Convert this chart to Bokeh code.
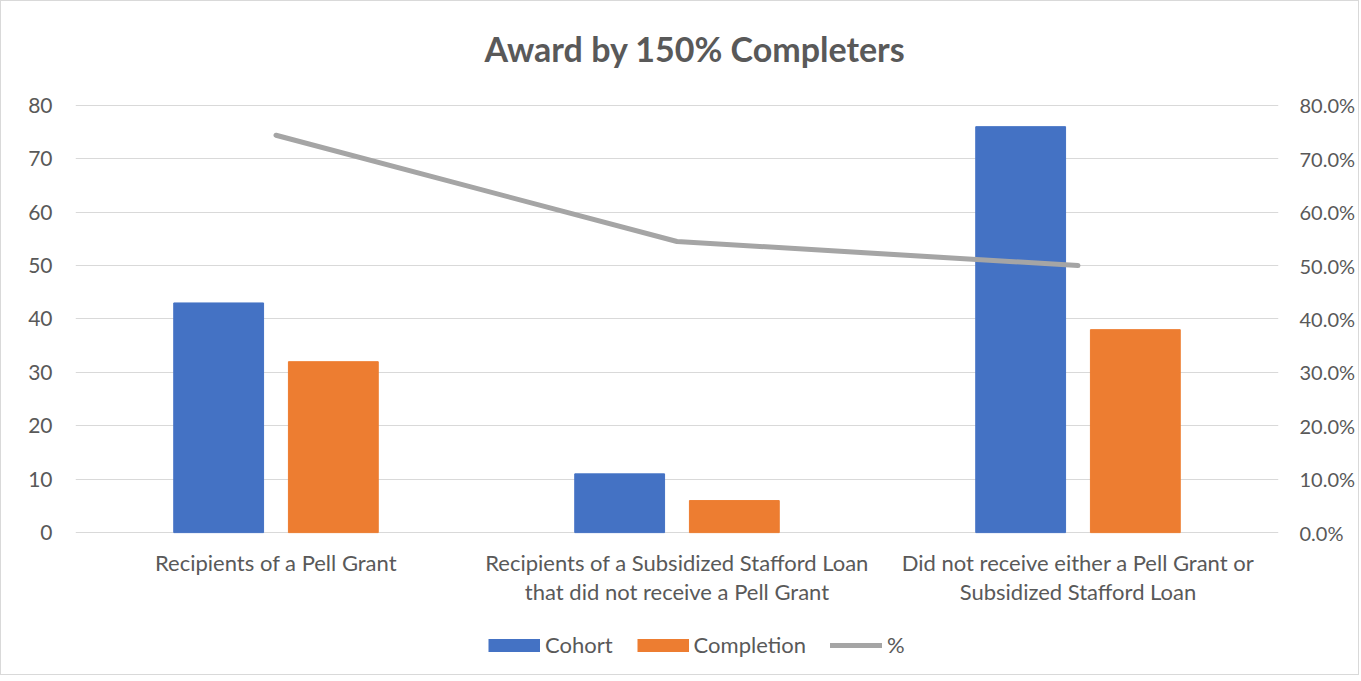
from bokeh.plotting import figure
from bokeh.models import (FactorRange, Range1d, LinearAxis, NumeralTickFormatter,
                          FixedTicker, Legend, LegendItem, ColumnDataSource)
from bokeh.core.properties import value
from bokeh.transform import dodge
from bokeh.embed import file_html
from bokeh.resources import INLINE

title = "Award by 150% Completers"
categories = ["Recipients of a Pell Grant",
              "Recipients of a Subsidized Stafford Loan\nthat did not receive a Pell Grant",
              "Did not receive either a Pell Grant or\nSubsidized Stafford Loan"]
cohort = [43, 11, 76]
completion = [32, 6, 38]
pct = [0.744, 0.545, 0.500]
left_ticks = [0, 10, 20, 30, 40, 50, 60, 70, 80]
right_ticks = [0.0, 0.1, 0.2, 0.3, 0.4, 0.5, 0.6, 0.7, 0.8]

FONT = "Lato"
TXT = "#595959"
BLUE = "#4472C4"
ORANGE = "#ED7D31"
GRAY = "#A5A5A5"

src = ColumnDataSource(dict(cat=categories, cohort=cohort, completion=completion, pct=pct,
                            base=[0] * len(categories)))

# frame extends above the top tick (title) and below zero (category labels, legend)
p = figure(x_range=FactorRange(*categories), y_range=Range1d(-26, 97),
           frame_width=1203, frame_height=657, output_backend="svg", toolbar_location=None,
           min_border_left=74, min_border_right=76, min_border_top=13, min_border_bottom=3)
p.extra_y_ranges = {"pct": Range1d(-0.26, 0.97)}

p.outline_line_color = None
p.styles = {"border": "1px solid #D9D9D9"}

r1 = p.vbar(x=dodge("cat", -0.143, range=p.x_range), top="cohort", width=0.224,
            source=src, color=BLUE)
r2 = p.vbar(x=dodge("cat", 0.143, range=p.x_range), top="completion", width=0.224,
            source=src, color=ORANGE)
r3 = p.line(x="cat", y="pct", source=src, y_range_name="pct",
            line_color=GRAY, line_width=5, line_cap="round", line_join="round")

# legend swatches: single-point lines draw nothing in the plot, only in the legend
sw1 = p.line(x=categories[:1], y=[0], line_color=BLUE, line_width=13, line_cap="butt")
sw2 = p.line(x=categories[:1], y=[0], line_color=ORANGE, line_width=13, line_cap="butt")

# chart title
p.text(x=categories[1:2], y=[80], text=[title], x_offset=18, y_offset=-57,
       text_align="center", text_baseline="middle", text_font=value(FONT),
       text_font_size="34px", text_font_style="bold", text_color=TXT)

# category labels
p.text(x="cat", y="base", text="cat", source=src, y_offset=16,
       text_align="center", text_baseline="top", text_font=value(FONT),
       text_font_size="22px", text_color=TXT, text_line_height=1.08)

# Left axis
ya = p.yaxis[0]
ya.ticker = FixedTicker(ticks=left_ticks)
ya.axis_line_color = None
ya.major_tick_line_color = None
ya.minor_tick_line_color = None
ya.major_label_standoff = 17
ya.major_label_text_font = FONT
ya.major_label_text_font_size = "21px"
ya.major_label_text_color = TXT

# Right axis
ra = LinearAxis(y_range_name="pct", ticker=FixedTicker(ticks=right_ticks),
                formatter=NumeralTickFormatter(format="0.0%"))
ra.axis_line_color = None
ra.major_tick_line_color = None
ra.minor_tick_line_color = None
ra.major_label_standoff = 15
ra.major_label_text_font = FONT
ra.major_label_text_font_size = "20px"
ra.major_label_text_color = TXT
p.add_layout(ra, "right")

p.xaxis.visible = False

p.xgrid.grid_line_color = None
p.ygrid.grid_line_color = "#D9D9D9"
p.ygrid.grid_line_width = 1
p.ygrid.ticker = FixedTicker(ticks=left_ticks)

legend = Legend(items=[LegendItem(label="Cohort", renderers=[sw1]),
                       LegendItem(label="Completion", renderers=[sw2]),
                       LegendItem(label="%", renderers=[r3])],
                orientation="horizontal", location=(413, 13),
                label_text_font=FONT, label_text_font_size="22px",
                label_text_color=TXT, glyph_width=52, glyph_height=14,
                spacing=24, label_standoff=5, border_line_color=None,
                background_fill_alpha=0, padding=5)
p.add_layout(legend, "center")

open("out.html", "w").write(file_html(p, INLINE))
